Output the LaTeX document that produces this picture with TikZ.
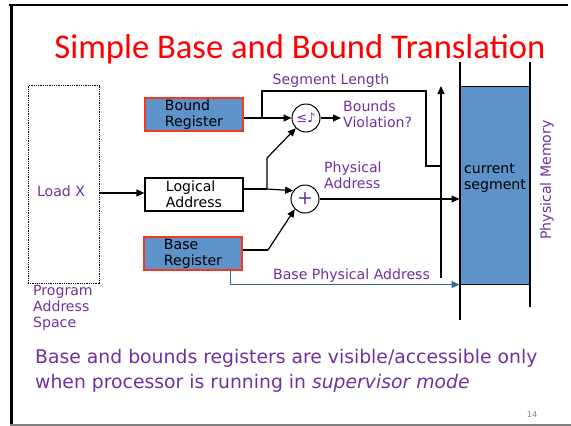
\documentclass[tikz,border=0pt]{standalone}
\usepackage{fontspec}
\setmainfont{DejaVu Sans}
\newfontfamily\titlefont{Carlito}
\usetikzlibrary{arrows.meta,calc}
\definecolor{slidepurple}{RGB}{112,48,160}
\definecolor{segblue}{RGB}{93,147,201}
\definecolor{regedge}{RGB}{245,55,30}
\definecolor{linkblue}{RGB}{52,102,156}

\begin{document}
\begin{tikzpicture}[x=1pt,y=-1pt,
  every node/.style={font=\fontsize{14.1}{16}\selectfont},
  box/.style={draw=black, line width=1.2pt, minimum width=98pt, minimum height=33pt,
              align=left, inner sep=0pt},
  reg/.style={box, fill=segblue, draw=regedge},
  lbl/.style={text=slidepurple, align=left, inner sep=0pt},
  op/.style={circle, draw, line width=1pt, minimum size=28pt, inner sep=0pt, text=slidepurple},
  wire/.style={line width=1.2pt},
  arr/.style={wire, -{Triangle[length=8pt,width=7pt]}},
  bluearr/.style={line width=1.2pt, draw=linkblue, -{Triangle[length=8pt,width=7pt]}, color=linkblue},
]
\useasboundingbox (0,0) rectangle (571,426);

% slide frame
\draw[line width=2.5pt] (9,5) -- (568,5);
\draw[line width=3pt] (11.5,3.8) -- (11.5,426);
\draw[gray, line width=1.5pt] (10,425) -- (571,425);

% title
\node[font=\titlefont\fontsize{34.6}{38}\selectfont, text=red, anchor=base, inner sep=0pt]
  (title) at (300,58) {Simple Base and Bound Translation};

% program address space
\node[draw, line width=0.9pt, dash pattern=on 0.9pt off 0.9pt, minimum width=71pt,
      minimum height=198pt, inner sep=0pt] (prog) at (63.5,184.5) {};
\node[lbl] (loadx) at (61,191) {Load X};
\node[lbl, anchor=north west] (progtxt) at (33,285) {Program\\Address\\Space};

% registers and logical address
\node[reg]  (bound)   at (194,114.5) {Bound\\Register};
\node[box, fill=white] (logical) at (194,194.5) {Logical\\Address};
\node[reg]  (base)    at (193,253.5) {Base\\Register};

% comparator and adder
\node[op] (cmp) at (306,118) {\fontsize{13}{13}\selectfont ≤♪};
\node[op] (add) at (305,199) {\fontsize{19}{19}\selectfont +};

% physical memory
\node[draw=black, line width=1pt, fill=segblue, minimum width=70pt, minimum height=198pt,
      inner sep=0pt] (mem) at (495,185) {};
\node[align=left, inner sep=0pt] (segtxt) at (495,178) {current\\segment};
\coordinate (mtl) at (460,62);
\coordinate (mbl) at (460,320);
\coordinate (mtr) at (530,62);
\coordinate (mbr) at (530,307);
\draw[line width=1.2pt] (mtl) -- (mbl);
\draw[line width=1.2pt] (mtr) -- (mbr);
\node[lbl, rotate=90] (pmem) at (547,180) {Physical Memory};

% load X to logical address
\draw[arr] (prog.east |- 0,193) -- (logical.west |- 0,193);

% bound register to comparator, and segment length path
\coordinate (j1) at (262,118);
\draw[arr] (bound.east |- cmp.west) -- (cmp.west);
\coordinate (limtop) at (441,86);
\coordinate (limbot) at (441,278);
\draw[arr] (limbot) -- (limtop);
\draw[wire] (j1) |- (426,91) |- (limtop |- 0,166);
\node[lbl] (seglen) at (331,81) {Segment Length};

% comparator output
\coordinate (viol) at (341,118);
\draw[arr] (cmp.east) -- (viol);
\node[lbl, anchor=west] (violtxt) at (343,114) {Bounds\\Violation?};

% logical address to comparator and adder
\coordinate (j2) at (267,189);
\draw[wire] (logical.east |- j2) -- (j2);
\draw[arr] (j2) -- (add.145);
\draw[arr] (j2) -- (267,158) -- (cmp.225);

% base register to adder
\coordinate (j3) at (268,250);
\draw[wire] (base.east |- j3) -- (j3);
\draw[arr] (j3) -- (add.225);

% adder to memory
\draw[arr] (add.east) -- (add.east -| mem.west);
\node[lbl, anchor=west] (physaddr) at (324,175.5) {Physical\\Address};

% base physical address
\coordinate (bp0) at ($(base.south east)+(-12,0)$);
\draw[bluearr] (bp0) |- (mem.south west);
\node[lbl] (bpa) at (351.5,276) {Base Physical Address};

% footnote text
\node[lbl, anchor=north west, font=\fontsize{18.8}{24.5}\selectfont] (note) at (35,349.5)
  {Base and bounds registers are visible/accessible only\\when processor is running in \textit{supervisor mode}};
\node[text=gray, font=\fontsize{8}{9}\selectfont, inner sep=0pt] (pnum) at (532,415) {14};
\end{tikzpicture}
\end{document}
